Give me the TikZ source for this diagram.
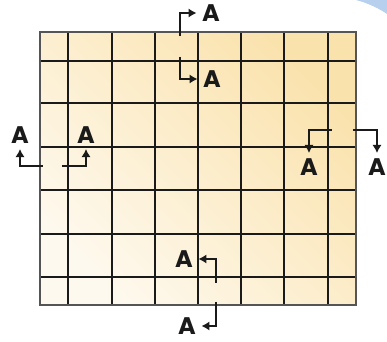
\documentclass[tikz,border=0pt]{standalone}
\usepackage{fontspec}
\setmainfont{Poppins}
\usetikzlibrary{arrows.meta}
\definecolor{cpaper}{HTML}{FEF9EE}
\definecolor{cpaperdk}{HTML}{FAE2AC}
\definecolor{cline}{HTML}{1A1A1A}
\definecolor{cedge}{HTML}{555555}
\definecolor{cswoosh}{HTML}{B6D0EE}
\tikzset{
  cplate/.style={draw=cedge, line width=0.8pt, shading=axis,
    top color=cpaperdk, bottom color=cpaper, shading angle=-45},
  cgrid/.style={draw=cline, line width=1.4pt},
  cutarrow/.style={-{Latex[length=4pt,width=4.6pt]}, draw=cline,
    line width=0.75pt},
  cutlabel/.style={text=cline, inner sep=2.6pt,
    font=\fontsize{12}{13}\selectfont\bfseries},
}

\begin{document}
\begin{tikzpicture}[x=0.5pt,y=-0.5pt]
\useasboundingbox (0,0) rectangle (387,342);

% corner decoration
\fill[cswoosh] (356,0) .. controls (368,3) and (380,9) .. (387,14)
  -- (387,0) -- cycle;

% the plate
\path[cplate] (40,32) rectangle (356,305);
\foreach \x in {68,112,155,198,241,284,328}
  \draw[cgrid] (\x,32) -- (\x,305);
\foreach \y in {61,103,147,190,234,277}
  \draw[cgrid] (40,\y) -- (356,\y);
\draw[cedge, line width=0.8pt] (40,32) rectangle (356,305);

% section labels
\node[cutlabel] (a1) at (211,13) {A};
\node[cutlabel] (a2) at (212,79) {A};
\node[cutlabel] (a3) at (20,135) {A};
\node[cutlabel] (a4) at (86,135) {A};
\node[cutlabel] (a5) at (309,167) {A};
\node[cutlabel] (a6) at (377,167) {A};
\node[cutlabel] (a7) at (184,259) {A};
\node[cutlabel] (a8) at (187,326) {A};

% cut line ends
\coordinate (c1) at (180,36);
\coordinate (c2) at (180,57);
\coordinate (c3) at (43,166);
\coordinate (c4) at (62,166);
\coordinate (c5) at (332,130);
\coordinate (c6) at (353,130);
\coordinate (c7) at (216,283);
\coordinate (c8) at (216,302);

\draw[cutarrow] (c1) |- (a1.west);
\draw[cutarrow] (c2) |- (a2.west);
\draw[cutarrow] (c3) -| (a3.south);
\draw[cutarrow] (c4) -| (a4.south);
\draw[cutarrow] (c5) -| (a5.north);
\draw[cutarrow] (c6) -| (a6.north);
\draw[cutarrow] (c7) |- (a7.east);
\draw[cutarrow] (c8) |- (a8.east);

\end{tikzpicture}
\end{document}
